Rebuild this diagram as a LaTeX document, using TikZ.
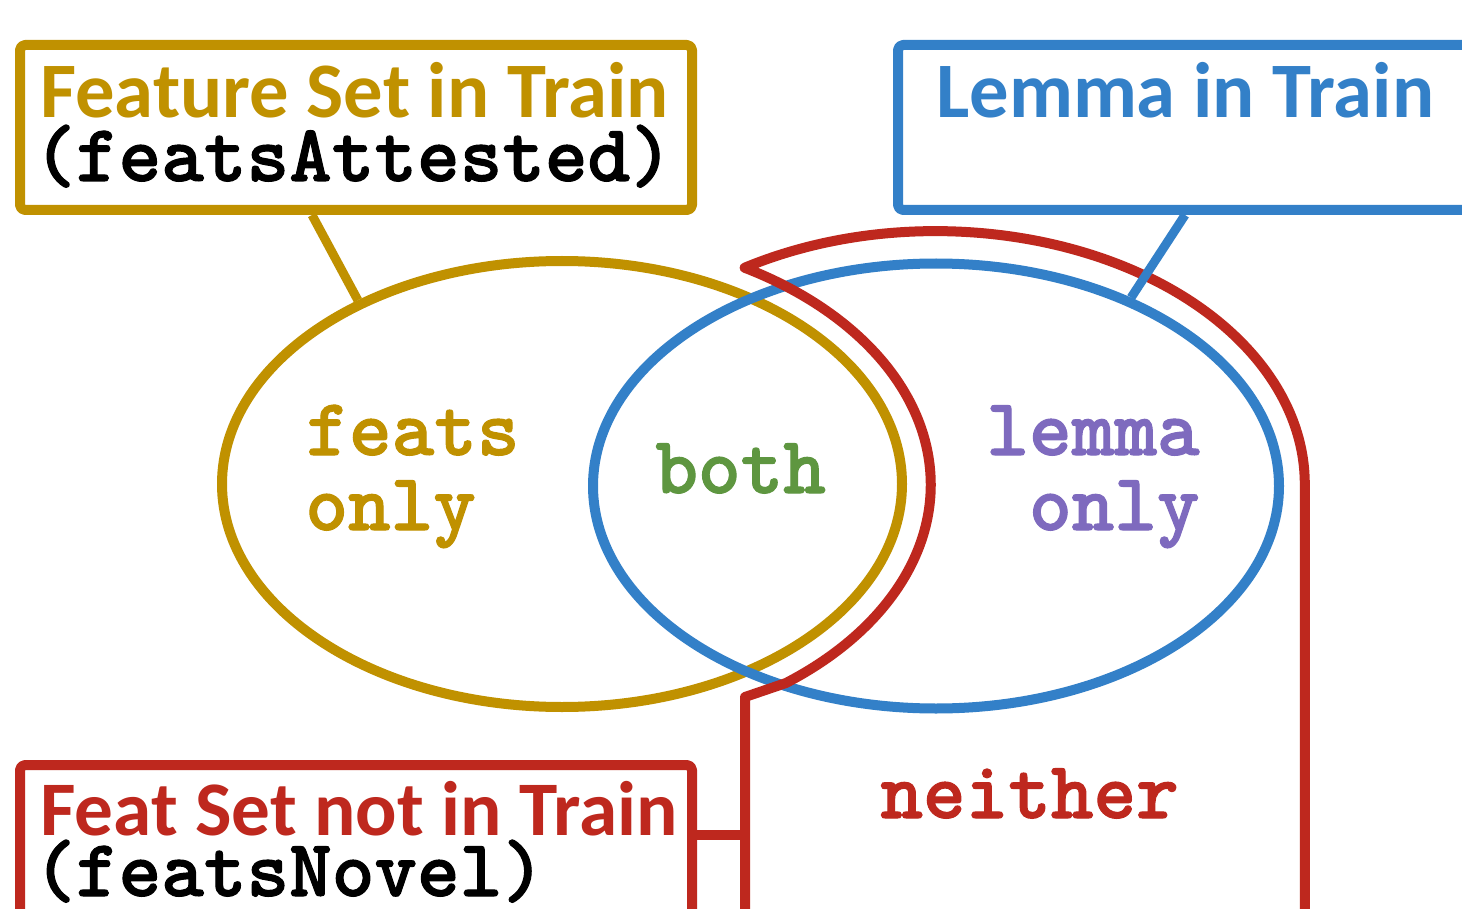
\documentclass[tikz,border=0pt]{standalone}
\usepackage{fontspec}
\usetikzlibrary{shapes.geometric,calc}
\newfontfamily\hdfont{Carlito}
\newfontfamily\monofont{lmmonolt10-bold.otf}[FakeBold=1.3]
\definecolor{cgold}{RGB}{192,145,0}
\definecolor{cblue}{RGB}{51,128,200}
\definecolor{cred}{RGB}{190,40,30}
\definecolor{cgreen}{RGB}{94,150,64}
\definecolor{cpurple}{RGB}{126,106,190}
\tikzset{
  lbox/.style={draw=#1, line width=5pt, fill=white, rounded corners=2.5pt, inner sep=0pt},
  venn/.style={draw=#1, ellipse, line width=5pt, inner sep=0pt},
  conn/.style={line width=4.5pt, draw=#1},
  hd/.style={font=\hdfont\bfseries\fontsize{39.3}{41}\selectfont, inner sep=0pt},
  hdsmall/.style={font=\hdfont\bfseries\fontsize{38.6}{41}\selectfont, inner sep=0pt},
  mono/.style={font=\monofont\fontsize{40.6}{42}\selectfont, inner sep=0pt},
}
\begin{document}
\begin{tikzpicture}[x=0.5pt,y=-0.5pt,line join=round]
\clip (0,0) rectangle (1462,909);
\fill[white] (0,0) rectangle (1462,909);
% boxes
\node[lbox=cgold, minimum width=336pt, minimum height=82.5pt] (goldB) at (356,127.5) {};
\node[lbox=cblue, minimum width=301pt, minimum height=82.5pt] (blueB) at (1199,127.5) {};
\node[lbox=cred, minimum width=336pt, minimum height=120pt] (redB) at (356,885) {};
% ellipses
\node[venn=cgold, minimum width=340pt, minimum height=223pt] (goldE) at (562,484) {};
\node[venn=cblue, minimum width=343pt, minimum height=222.5pt] (blueE) at (936,486) {};
% gold connector
\draw[conn=cgold] ($(goldB.south)+(-44,0)$) -- (goldE.138);
% red region outline
\coordinate (rb) at (745,960);
\coordinate (rk) at (745,697);
\coordinate (rr) at (1305,960);
\draw[line width=5pt, cred]
  (rb) -- (rk) -- (786,683)
  arc[start angle=52.5, end angle=-60.2, x radius=370, y radius=250]
  arc[start angle=-121.2, end angle=0, x radius=369, y radius=253]
  -- (rr);
% red connector
\draw[conn=cred, line width=5pt] (redB.east |- 0,835) -- (rk |- 0,835);
% blue connector
\draw[conn=cblue] ($(blueB.south)+(-14,0)$) -- (blueE.44);
% texts
\node[hd, text=cgold, anchor=base west] (t1) at (40,118) {Feature Set in Train};
\node[mono, anchor=base west] (t2) at (33,181) {(featsAttested)};
\node[hd, text=cblue, anchor=base west] (t3) at (936,118) {Lemma in Train};
\node[hdsmall, text=cred, anchor=base west] (t4) at (40,835) {Feat Set not in Train};
\node[mono, anchor=base west] (t5) at (33,896) {(featsNovel)};
\node[mono, text=cgold, anchor=base west] (f1) at (306,455) {feats};
\node[mono, text=cgold, anchor=base west] (f2) at (305,530) {only};
\node[mono, text=cgreen, anchor=base west] (bo) at (655,493) {both};
\node[mono, text=cpurple, anchor=base east] (l1) at (1200,455) {lemma};
\node[mono, text=cpurple, anchor=base east] (l2) at (1200,530) {only};
\node[mono, text=cred, anchor=base west] (ne) at (880,818) {neither};
\end{tikzpicture}
\end{document}
